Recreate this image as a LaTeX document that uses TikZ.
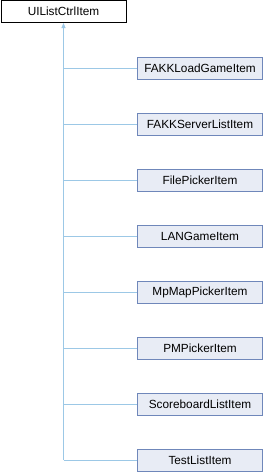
\documentclass[tikz,border=0pt]{standalone}
\usepackage{fontspec}
\setmainfont{Liberation Sans}
\usepackage{xcolor}
\usetikzlibrary{arrows.meta, positioning}
\definecolor{classfill}{HTML}{E8ECF5}
\definecolor{classdraw}{HTML}{6F87BA}
\definecolor{inherit}{HTML}{9CC8E6}
\tikzset{
  baseclass/.style={
    draw=black, fill=white, line width=1pt, align=center,
    font=\fontsize{11.8}{14}\selectfont, minimum width=125pt,
    minimum height=22pt, inner sep=0pt
  },
  derivedclass/.style={
    draw=classdraw, fill=classfill, line width=1pt, align=center,
    font=\fontsize{11.8}{14}\selectfont, minimum width=125pt,
    minimum height=22pt, inner sep=0pt
  },
  inheritline/.style={draw=inherit, line width=1pt},
  inheritarrow/.style={
    {Triangle[length=5pt, width=4pt, fill=inherit]}-, draw=inherit,
    line width=1pt
  },
}

\begin{document}
\begin{tikzpicture}[x=1pt, y=-1pt]
  \useasboundingbox (0,0) rectangle (264,472);
  % base class
  \node[baseclass] (uilist) at (63.5,11.5) {UIListCtrlItem};
  % derived classes
  \node[derivedclass] (fakkload) at (200,68) {FAKKLoadGameItem};
  \node[derivedclass] (fakkserver) at (200,124) {FAKKServerListItem};
  \node[derivedclass] (filepicker) at (200,180) {FilePickerItem};
  \node[derivedclass] (langame) at (200,236) {LANGameItem};
  \node[derivedclass] (mpmap) at (200,292) {MpMapPickerItem};
  \node[derivedclass] (pmpicker) at (200,348) {PMPickerItem};
  \node[derivedclass] (scoreboard) at (200,404) {ScoreboardListItem};
  \node[derivedclass] (testlist) at (200,460) {TestListItem};
  % trunk
  \coordinate (trunkend) at (uilist.south |- testlist.west);
  \draw[inheritarrow] (uilist.south) -- (trunkend);
  % branches
  \draw[inheritline] (uilist.south |- fakkload.west) -- (fakkload.west);
  \draw[inheritline] (uilist.south |- fakkserver.west) -- (fakkserver.west);
  \draw[inheritline] (uilist.south |- filepicker.west) -- (filepicker.west);
  \draw[inheritline] (uilist.south |- langame.west) -- (langame.west);
  \draw[inheritline] (uilist.south |- mpmap.west) -- (mpmap.west);
  \draw[inheritline] (uilist.south |- pmpicker.west) -- (pmpicker.west);
  \draw[inheritline] (uilist.south |- scoreboard.west) -- (scoreboard.west);
  \draw[inheritline] (trunkend) -- (testlist.west);
\end{tikzpicture}
\end{document}
